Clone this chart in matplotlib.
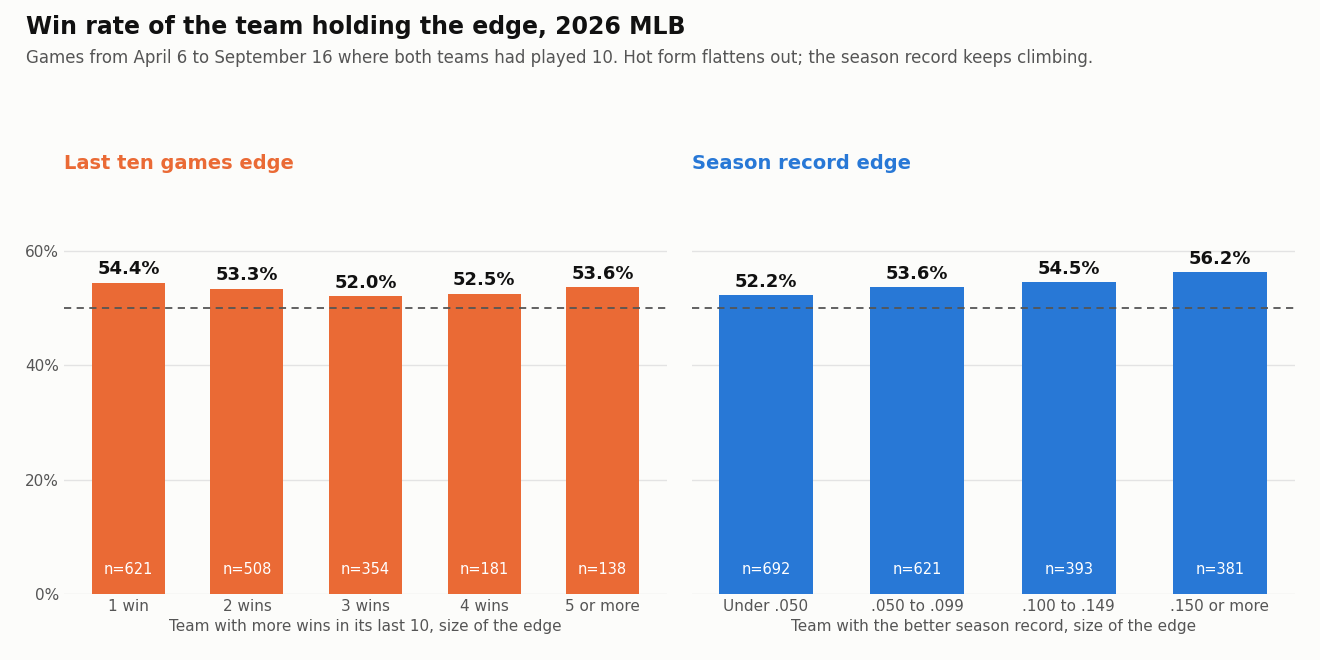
import matplotlib
matplotlib.use("Agg")
import matplotlib.pyplot as plt
from matplotlib.ticker import FuncFormatter

left_cats = ["1 win", "2 wins", "3 wins", "4 wins", "5 or more"]
left_vals = [54.4, 53.3, 52.0, 52.5, 53.6]
left_n = [621, 508, 354, 181, 138]
right_cats = ["Under .050", ".050 to .099", ".100 to .149", ".150 or more"]
right_vals = [52.2, 53.6, 54.5, 56.2]
right_n = [692, 621, 393, 381]

bg = "#fcfcfa"
orange = "#EA6A35"
blue = "#2878D6"
plt.rcParams['font.family'] = ['DejaVu Sans']
fig = plt.figure(figsize=(13.2, 6.6), dpi=100, facecolor=bg)
fig.text(26/1320, 1-27/660, "Win rate of the team holding the edge, 2026 MLB", fontsize=17, fontweight="bold", va="center", color="#111")
fig.text(26/1320, 1-58/660, "Games from April 6 to September 16 where both teams had played 10. Hot form flattens out; the season record keeps climbing.", fontsize=12, va="center", color="#555")

def panel(rect, cats, vals, ns, color, title, xlabel, width, xlim, ylabels):
    ax = fig.add_axes(rect, facecolor=bg)
    x = list(range(len(cats)))
    ax.bar(x, vals, width=width, color=color, zorder=3)
    for xi, v, n in zip(x, vals, ns):
        ax.text(xi, v + 0.8, f"{v:.1f}%", ha="center", va="bottom", fontsize=13, fontweight="bold", color="#111", zorder=4)
        ax.text(xi, 4.3, f"n={n}", ha="center", va="center", fontsize=10.5, color="white", zorder=4)
    ax.axhline(50, color="#555", ls=(0, (4, 3)), lw=1.3, zorder=4)
    ax.set_ylim(0, 65)
    ax.set_xlim(*xlim)
    ax.set_yticks([0, 20, 40, 60])
    ax.yaxis.set_major_formatter(FuncFormatter(lambda v, p: f"{v:.0f}%"))
    ax.grid(axis="y", color="#e3e3e3", lw=1, zorder=0)
    for s in ax.spines.values():
        s.set_visible(False)
    ax.tick_params(length=0, labelsize=11, colors="#555")
    if not ylabels:
        ax.set_yticklabels([])
    ax.set_xticks(x)
    ax.set_xticklabels(cats)
    ax.set_xlabel(xlabel, fontsize=11, color="#555", labelpad=4)
    ax.text(0, 1 + (222-163)/372, title, transform=ax.transAxes, fontsize=14, fontweight="bold", color=color, va="center")
    return ax

b, h = 1-594/660, 372/660
panel([64/1320, b, 603/1320, h], left_cats, left_vals, left_n, orange, "Last ten games edge",
      "Team with more wins in its last 10, size of the edge", 0.616, (-0.544, 4.544), True)
panel([692/1320, b, 603/1320, h], right_cats, right_vals, right_n, blue, "Season record edge",
      "Team with the better season record, size of the edge", 0.62, (-0.489, 3.496), False)
fig.savefig("out.png", dpi=100, facecolor=bg)
